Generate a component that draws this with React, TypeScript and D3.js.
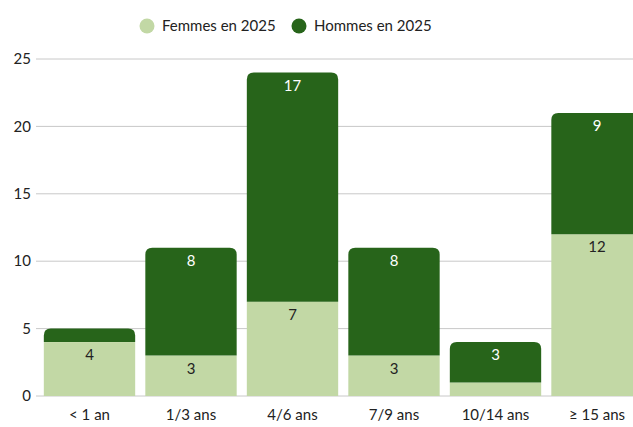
import React, { useEffect, useRef } from "react";
import * as d3 from "d3";

const categories = ["< 1 an", "1/3 ans", "4/6 ans", "7/9 ans", "10/14 ans", "≥ 15 ans"];
const femmes = [4, 3, 7, 3, 1, 12];
const hommes = [1, 8, 17, 8, 3, 9];
const yTicks = [0, 5, 10, 15, 20, 25];
const seriesNames = ["Femmes en 2025", "Hommes en 2025"];

const W = 633;
const H = 427;
const colLight = "#c2d8a5";
const colDark = "#27641a";
const font = "Lato, 'Open Sans', sans-serif";

// path for rect with rounded top corners only
function topRounded(x: number, y: number, w: number, h: number, r: number) {
  const rr = Math.min(r, h, w / 2);
  return `M${x},${y + h}V${y + rr}Q${x},${y} ${x + rr},${y}H${x + w - rr}Q${x + w},${y} ${x + w},${y + rr}V${y + h}Z`;
}

const App = () => {
  const ref = useRef<SVGSVGElement>(null);

  useEffect(() => {
    const svg = d3.select(ref.current);
    svg.selectAll("*").remove();

    const x = d3.scaleBand().domain(categories).range([38.75, 647.75]).paddingInner(0.1).paddingOuter(0.05);
    const y = d3.scaleLinear().domain([0, 25]).range([396, 59]);

    // grid
    svg.append("g")
      .selectAll("line")
      .data(yTicks)
      .enter()
      .append("line")
      .attr("x1", 36)
      .attr("x2", W)
      .attr("y1", d => y(d))
      .attr("y2", d => y(d))
      .attr("stroke", "#c8c8c8")
      .attr("stroke-width", 1);

    svg.append("g")
      .selectAll("text")
      .data(yTicks)
      .enter()
      .append("text")
      .attr("x", 31)
      .attr("y", d => y(d))
      .attr("dy", "0.35em")
      .attr("text-anchor", "end")
      .style("font-family", font)
      .style("font-size", "15px")
      .style("fill", "#222")
      .text(d => d);

    const rows = categories.map((c, i) => ({ c, f: femmes[i], h: hommes[i] }));
    const bw = x.bandwidth();

    const g = svg.append("g");
    // femmes
    g.selectAll(".f")
      .data(rows)
      .enter()
      .append("rect")
      .attr("x", d => x(d.c)!)
      .attr("y", d => y(d.f))
      .attr("width", bw)
      .attr("height", d => y(0) - y(d.f))
      .attr("fill", colLight);
    // hommes
    g.selectAll(".h")
      .data(rows)
      .enter()
      .append("path")
      .attr("d", d => topRounded(x(d.c)!, y(d.f + d.h), bw, y(d.f) - y(d.f + d.h), 7))
      .attr("fill", colDark);

    // labels
    const lab = svg.append("g").style("font-family", font).style("font-size", "15px").attr("text-anchor", "middle");
    rows.forEach(d => {
      const cx = x(d.c)! + bw / 2;
      if (y(0) - y(d.f) > 18) {
        lab.append("text").attr("x", cx).attr("y", y(d.f) + 13).attr("dy", "0.35em").style("fill", "#222").text(d.f);
      }
      if (y(d.f) - y(d.f + d.h) > 18) {
        lab.append("text").attr("x", cx).attr("y", y(d.f + d.h) + 13).attr("dy", "0.35em").style("fill", "#fff").text(d.h);
      }
    });

    // x labels
    svg.append("g")
      .selectAll("text")
      .data(categories)
      .enter()
      .append("text")
      .attr("x", d => x(d)! + bw / 2)
      .attr("y", 415)
      .attr("dy", "0.35em")
      .attr("text-anchor", "middle")
      .style("font-family", font)
      .style("font-size", "15px")
      .style("fill", "#222")
      .text(d => d);

    // legend
    const legendX = [147, 299];
    const leg = svg.append("g");
    seriesNames.forEach((n, i) => {
      leg.append("circle").attr("cx", legendX[i]).attr("cy", 26).attr("r", 7.5).attr("fill", i === 0 ? colLight : colDark);
      leg.append("text")
        .attr("x", legendX[i] + 15)
        .attr("y", 26)
        .attr("dy", "0.35em")
        .style("font-family", font)
        .style("font-size", "15px")
        .style("fill", "#222")
        .text(n);
    });
  }, []);

  return (
    <svg
      ref={ref}
      width={W}
      height={H}
      style={{ position: "absolute", left: 0, top: 0, background: "#fff" }}
    />
  );
};

export default App;
